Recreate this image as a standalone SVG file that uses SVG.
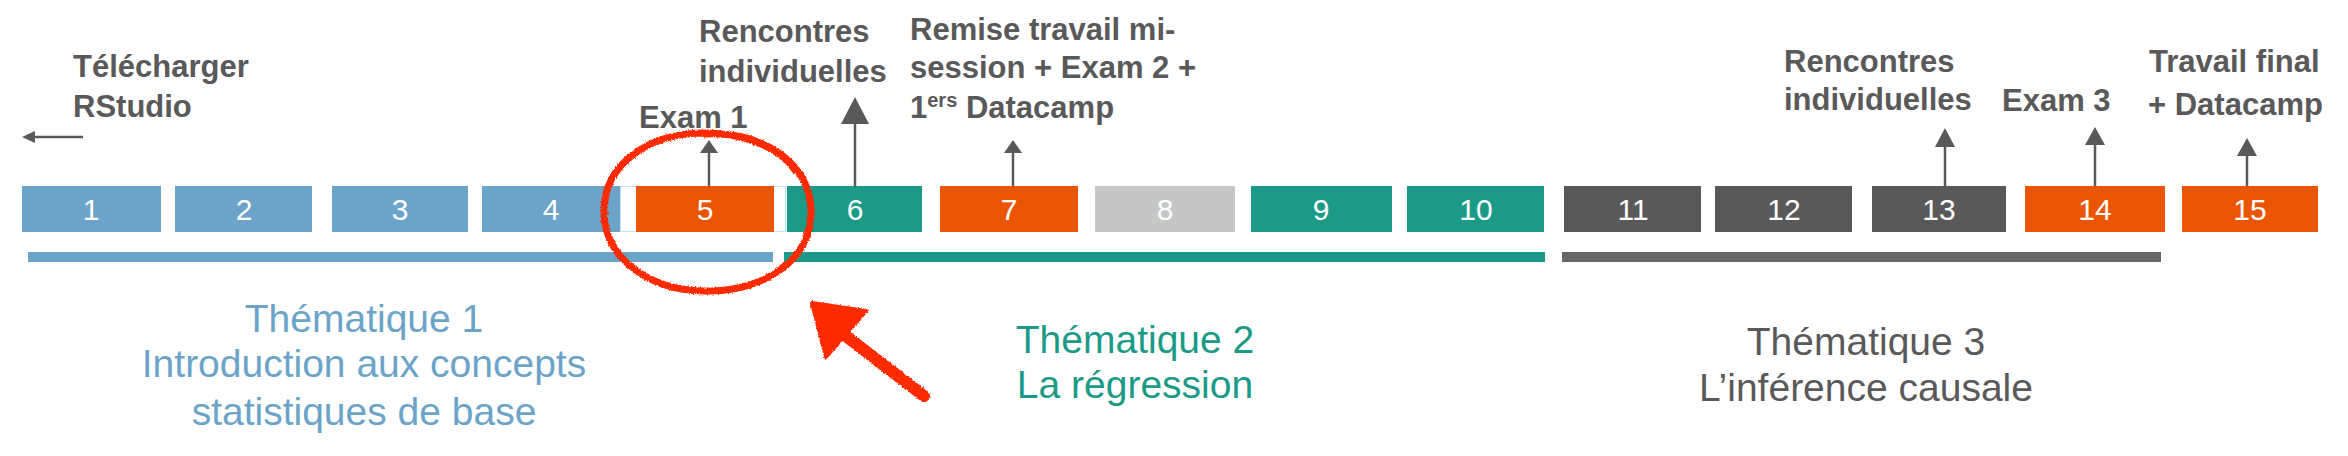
<svg xmlns="http://www.w3.org/2000/svg" width="2348" height="456" viewBox="0 0 2348 456">
<style>
.blue{fill:#6BA4C8}.teal{fill:#1B9A88}.orange{fill:#EA5504}.lgray{fill:#C6C6C6}.dgray{fill:#595959}
.num{font-family:"Liberation Sans",Arial,sans-serif;font-size:30px;fill:#fff;text-anchor:middle}
.lbl{font-family:"Liberation Sans",Arial,sans-serif;font-size:31px;font-weight:bold;fill:#595959}
.th{font-family:"Liberation Sans",Arial,sans-serif;font-size:39px;text-anchor:middle}
.ar{stroke:#595959;stroke-width:2.5;fill:none}
.ah{fill:#595959}
</style>
<defs>
<filter id="rough" x="-10%" y="-10%" width="120%" height="120%">
<feTurbulence type="fractalNoise" baseFrequency="0.6" numOctaves="2" seed="3"/>
<feDisplacementMap in="SourceGraphic" scale="3" xChannelSelector="R" yChannelSelector="G"/>
</filter>
</defs>
<rect width="2348" height="456" fill="#fff"/>
<g id="weeks">
<g id="w1"><rect class="blue" x="22" y="186" width="139" height="46"/><text class="num" x="91" y="220">1</text></g>
<g id="w2"><rect class="blue" x="175" y="186" width="137" height="46"/><text class="num" x="244" y="220">2</text></g>
<g id="w3"><rect class="blue" x="332" y="186" width="136" height="46"/><text class="num" x="400" y="220">3</text></g>
<g id="w4"><rect class="blue" x="482" y="186" width="138" height="46"/><text class="num" x="551" y="220">4</text></g>
<g id="w5"><rect x="620.5" y="186.5" width="165" height="45" fill="#fff" stroke="#C4E2EA" stroke-width="1"/><rect class="orange" x="636" y="186" width="138" height="46"/><text class="num" x="705" y="220">5</text></g>
<g id="w6"><rect class="teal" x="787" y="186" width="135" height="46"/><text class="num" x="855" y="220">6</text></g>
<g id="w7"><rect class="orange" x="940" y="186" width="138" height="46"/><text class="num" x="1009" y="220">7</text></g>
<g id="w8"><rect class="lgray" x="1095" y="186" width="140" height="46"/><text class="num" x="1165" y="220">8</text></g>
<g id="w9"><rect class="teal" x="1251" y="186" width="141" height="46"/><text class="num" x="1321" y="220">9</text></g>
<g id="w10"><rect class="teal" x="1407" y="186" width="137" height="46"/><text class="num" x="1476" y="220">10</text></g>
<g id="w11"><rect class="dgray" x="1564" y="186" width="137" height="46"/><text class="num" x="1633" y="220">11</text></g>
<g id="w12"><rect class="dgray" x="1715" y="186" width="137" height="46"/><text class="num" x="1784" y="220">12</text></g>
<g id="w13"><rect class="dgray" x="1872" y="186" width="134" height="46"/><text class="num" x="1939" y="220">13</text></g>
<g id="w14"><rect class="orange" x="2025" y="186" width="140" height="46"/><text class="num" x="2095" y="220">14</text></g>
<g id="w15"><rect class="orange" x="2182" y="186" width="136" height="46"/><text class="num" x="2250" y="220">15</text></g>
</g>
<g id="bars">
<rect x="28" y="252" width="745" height="10" fill="#6BA4C8"/>
<rect x="784" y="252" width="761" height="10" fill="#1B9A88"/>
<rect x="1562" y="252" width="599" height="10" fill="#666"/>
</g>
<g id="labels">
<g id="l-rstudio"><text class="lbl" x="73" y="77">Télécharger</text><text class="lbl" x="73" y="117">RStudio</text></g>
<g id="l-exam1"><text class="lbl" x="639" y="128">Exam 1</text></g>
<g id="l-renc1"><text class="lbl" x="699" y="42">Rencontres</text><text class="lbl" x="699" y="82">individuelles</text></g>
<g id="l-remise"><text class="lbl" x="910" y="40">Remise travail mi-</text><text class="lbl" x="910" y="78">session + Exam 2 +</text><text class="lbl" x="910" y="118">1<tspan font-size="20" dy="-11">ers</tspan><tspan dy="11"> Datacamp</tspan></text></g>
<g id="l-renc2"><text class="lbl" x="1784" y="72">Rencontres</text><text class="lbl" x="1784" y="110">individuelles</text></g>
<g id="l-exam3"><text class="lbl" x="2002" y="111">Exam 3</text></g>
<g id="l-final"><text class="lbl" x="2149" y="72">Travail final</text><text class="lbl" x="2148" y="115">+ Datacamp</text></g>
</g>
<g id="themes">
<g id="t1" fill="#6BA4C8"><text class="th" x="364" y="332">Thématique 1</text><text class="th" x="364" y="377">Introduction aux concepts</text><text class="th" x="364" y="425">statistiques de base</text></g>
<g id="t2" fill="#1B9A88"><text class="th" x="1135" y="353">Thématique 2</text><text class="th" x="1135" y="398">La régression</text></g>
<g id="t3" fill="#595959"><text class="th" x="1866" y="355">Thématique 3</text><text class="th" x="1866" y="401">L’inférence causale</text></g>
</g>
<g id="connectors">
<line class="ar" x1="83" y1="137" x2="32" y2="137"/><polygon class="ah" points="22,137 35,131 35,143"/>
<line class="ar" x1="709" y1="186" x2="709" y2="150"/><polygon class="ah" points="709,140 700,153 718,153"/>
<line class="ar" x1="855" y1="187" x2="855" y2="120" stroke-width="3"/><polygon class="ah" points="855,97 841,124 869,124"/>
<line class="ar" x1="1013" y1="186" x2="1013" y2="150"/><polygon class="ah" points="1013,140 1004,153 1022,153"/>
<line class="ar" x1="1945" y1="186" x2="1945" y2="143"/><polygon class="ah" points="1945,128 1935,147 1955,147"/>
<line class="ar" x1="2095" y1="186" x2="2095" y2="140"/><polygon class="ah" points="2095,127 2085,145 2105,145"/>
<line class="ar" x1="2247" y1="186" x2="2247" y2="150"/><polygon class="ah" points="2247,138 2237,156 2257,156"/>
</g>
<g id="annotation" fill="none" stroke="#FF2A00" stroke-linecap="round" stroke-linejoin="round" filter="url(#rough)">
<path d="M705,134 C765,131 812,165 811,213 C810,262 762,292 704,291 C646,290 604,256 604,211 C604,166 646,133 705,133 C745,133 780,148 795,170" stroke-width="7"/>
<path d="M924,396 L838,330" stroke-width="12"/>
<polygon points="812,303 866,311 826,357" fill="#FF2A00" stroke-width="4"/>
</g>
</svg>
